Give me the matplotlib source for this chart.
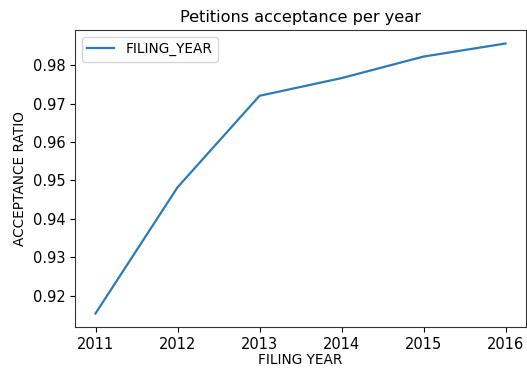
import matplotlib
matplotlib.use("Agg")
import matplotlib.pyplot as plt

years = [2011, 2012, 2013, 2014, 2015, 2016]
ratio = [0.9154, 0.9482, 0.9720, 0.9766, 0.9822, 0.9856]
xticks = [2011, 2012, 2013, 2014, 2015, 2016]
yticks = [0.92, 0.93, 0.94, 0.95, 0.96, 0.97, 0.98]

W, H = 527, 369
fig = plt.figure(figsize=(W / 100, H / 100), dpi=100)
ax = fig.add_axes([75 / W, 1 - 327 / H, (526 - 75) / W, (327 - 30) / H])
ax.plot(years, ratio, color="#2b7bba", lw=1.6, label="FILING_YEAR")
ax.set_xticks(xticks)
ax.set_xticklabels([str(x) for x in xticks])
ax.set_yticks(yticks)
ax.set_yticklabels([f"{y:.2f}" for y in yticks])
ax.tick_params(labelsize=10.5)
for s in ax.spines.values():
    s.set_color("#333333")
ax.set_title("Petitions acceptance per year", fontsize=11.6)
ax.set_xlabel("FILING YEAR", fontsize=9.8, labelpad=1)
ax.set_ylabel("ACCEPTANCE RATIO", fontsize=9.8)
ax.legend(loc="upper left", fontsize=9.8)
fig.savefig("out.png", dpi=100)
